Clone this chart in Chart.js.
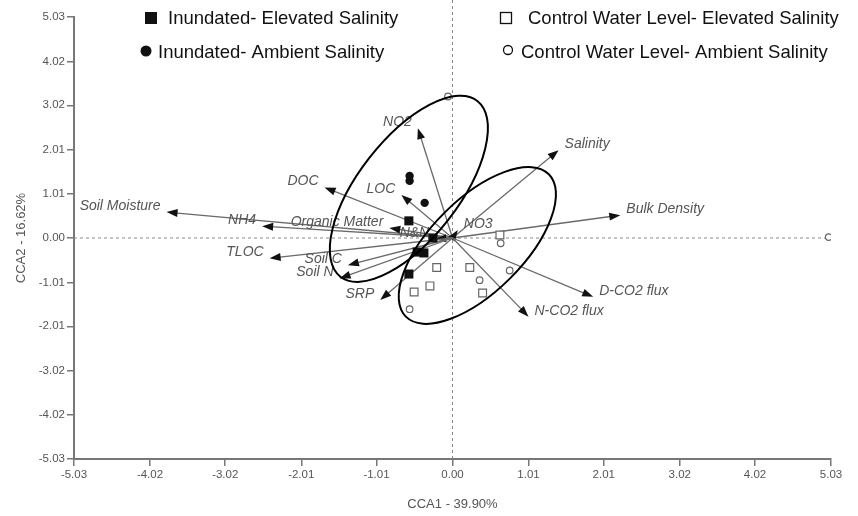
<!DOCTYPE html>
<html lang="en">
<head>
<meta charset="UTF-8">
<title>CCA biplot</title>
<script src="https://cdn.jsdelivr.net/npm/chart.js"></script>
<style>
    body { margin: 0; background: #fff; }
    #wrap { width: 858px; height: 516px; }
</style>
</head>
<body>
<div id="wrap"><canvas id="cca"></canvas></div>
<script>
// tick positions (same on both axes)
const tickValues = [-5.03, -4.02, -3.02, -2.01, -1.01, 0, 1.01, 2.01, 3.02, 4.02, 5.03];

// site scores per treatment
const inundElevX = [-0.58, -0.26, -0.47, -0.38, -0.58];
const inundElevY = [0.39, 0.00, -0.32, -0.34, -0.82];
const inundAmbX = [-0.57, -0.57, -0.37];
const inundAmbY = [1.41, 1.30, 0.80];
const ctrlElevX = [-0.21, 0.23, -0.30, -0.51, 0.40, 0.63];
const ctrlElevY = [-0.67, -0.67, -1.09, -1.23, -1.25, 0.07];
const ctrlAmbX = [0.64, 0.36, 0.76, -0.57, -0.06, 5.00];
const ctrlAmbY = [-0.12, -0.96, -0.74, -1.62, 3.22, 0.02];

// environmental vectors
const vectorNames = ['Soil Moisture', 'NH4', 'Organic Matter', 'DOC', 'LOC', 'NO2', 'Salinity', 'Bulk Density',
    'NO3', 'N&N', 'TLOC', 'Soil C', 'Soil N', 'SRP', 'D-CO2 flux', 'N-CO2 flux'];
const vectorX = [-3.80, -2.53, -0.84, -1.70, -0.68, -0.46, 1.41, 2.23, 0.07, -0.23, -2.43, -1.39, -1.50, -0.96, 1.87, 1.01];
const vectorY = [0.59, 0.27, 0.23, 1.15, 0.98, 2.50, 2.00, 0.52, 0.18, -0.02, -0.46, -0.62, -0.92, -1.41, -1.34, -1.79];

// ellipses: centre, end of major axis, minor/major ratio
const ellipseCX = [-0.58, 0.33];
const ellipseCY = [1.12, -0.17];
const ellipseMX = [0.33, 1.28];
const ellipseMY = [3.12, 1.45];
const ellipseRatio = [0.45, 0.46];

const FONT = "'Liberation Sans', Arial, sans-serif";

function toPoints(xs, ys) {
    return xs.map((x, i) => ({ x: x, y: ys[i] }));
}

// zero lines + vectors under the points, ellipses + legend on top
const biplot = {
    id: 'biplot',
    beforeDatasetsDraw(chart) {
        const { ctx, chartArea, scales: { x, y } } = chart;
        const ox = x.getPixelForValue(0), oy = y.getPixelForValue(0);
        ctx.save();
        ctx.strokeStyle = '#888';
        ctx.lineWidth = 1;
        ctx.setLineDash([3, 3]);
        ctx.beginPath();
        ctx.moveTo(ox, 0);
        ctx.lineTo(ox, chartArea.bottom);
        ctx.moveTo(chartArea.left, oy);
        ctx.lineTo(chartArea.right, oy);
        ctx.stroke();
        ctx.setLineDash([]);

        ctx.font = 'italic 14px ' + FONT;
        ctx.textBaseline = 'middle';
        vectorNames.forEach((name, i) => {
            const tx = x.getPixelForValue(vectorX[i]);
            const ty = y.getPixelForValue(vectorY[i]);
            const ang = Math.atan2(ty - oy, tx - ox);
            ctx.strokeStyle = '#6a6a6a';
            ctx.lineWidth = 1.3;
            ctx.beginPath();
            ctx.moveTo(ox, oy);
            ctx.lineTo(tx - 8 * Math.cos(ang), ty - 8 * Math.sin(ang));
            ctx.stroke();
            // arrow head
            ctx.fillStyle = '#111';
            ctx.beginPath();
            ctx.moveTo(tx, ty);
            ctx.lineTo(tx - 11 * Math.cos(ang) + 4 * Math.sin(ang), ty - 11 * Math.sin(ang) - 4 * Math.cos(ang));
            ctx.lineTo(tx - 11 * Math.cos(ang) - 4 * Math.sin(ang), ty - 11 * Math.sin(ang) + 4 * Math.cos(ang));
            ctx.closePath();
            ctx.fill();
            // label
            ctx.fillStyle = '#555';
            if (vectorX[i] < 0) {
                ctx.textAlign = 'right';
                ctx.fillText(name, tx - 6, ty - 6);
            } else {
                ctx.textAlign = 'left';
                ctx.fillText(name, tx + 6, ty - 6);
            }
        });
        ctx.restore();
    },
    afterDatasetsDraw(chart) {
        const { ctx, scales: { x, y } } = chart;
        ctx.save();
        ctx.strokeStyle = '#000';
        ctx.lineWidth = 2;
        ellipseCX.forEach((cxv, i) => {
            const cx = x.getPixelForValue(cxv), cy = y.getPixelForValue(ellipseCY[i]);
            const mx = x.getPixelForValue(ellipseMX[i]), my = y.getPixelForValue(ellipseMY[i]);
            const a = Math.hypot(mx - cx, my - cy);
            ctx.beginPath();
            ctx.ellipse(cx, cy, a, a * ellipseRatio[i], Math.atan2(my - cy, mx - cx), 0, Math.PI * 2);
            ctx.stroke();
        });

        // legend
        ctx.font = '18.5px ' + FONT;
        ctx.textAlign = 'left';
        ctx.textBaseline = 'middle';
        ctx.fillStyle = '#111';
        ctx.fillRect(145, 12, 12, 12);
        ctx.fillText('Inundated- Elevated Salinity', 168, 19);
        ctx.beginPath();
        ctx.arc(146, 51, 5.5, 0, Math.PI * 2);
        ctx.fill();
        ctx.fillText('Inundated- Ambient Salinity', 158, 53);
        ctx.strokeStyle = '#111';
        ctx.lineWidth = 1.3;
        ctx.strokeRect(500.5, 12.5, 11, 11);
        ctx.fillText('Control Water Level- Elevated Salinity', 528, 19);
        ctx.beginPath();
        ctx.arc(508, 50, 4.5, 0, Math.PI * 2);
        ctx.stroke();
        ctx.fillText('Control Water Level- Ambient Salinity', 521, 53);
        ctx.restore();
    }
};

function axis(title, isX) {
    return {
        type: 'linear',
        min: -5.03,
        max: 5.03,
        afterBuildTicks: s => { s.ticks = tickValues.map(v => ({ value: v })); },
        afterFit: s => { if (isX) s.height = 53; else s.width = 64; },
        grid: { display: true, drawOnChartArea: false, drawTicks: true, tickLength: 7, color: '#777', lineWidth: 1.5 },
        border: { display: true, color: '#777', width: 2 },
        ticks: {
            autoSkip: false, maxRotation: 0, padding: 2,
            color: '#555', font: { size: 11.5, family: FONT },
            callback: v => v.toFixed(2)
        },
        title: {
            display: true, text: title, color: '#555',
            font: { size: 13, family: FONT },
            padding: isX ? { top: 12, bottom: 0 } : { top: 4, bottom: 0 }
        }
    };
}

new Chart(document.getElementById('cca'), {
    type: 'scatter',
    data: {
        datasets: [
            { label: 'Inundated- Elevated Salinity', data: toPoints(inundElevX, inundElevY),
              pointStyle: 'rect', pointRadius: 6.4, backgroundColor: '#111', borderColor: '#111', borderWidth: 0 },
            { label: 'Inundated- Ambient Salinity', data: toPoints(inundAmbX, inundAmbY),
              pointStyle: 'circle', pointRadius: 4.2, backgroundColor: '#111', borderColor: '#111', borderWidth: 0 },
            { label: 'Control Water Level- Elevated Salinity', data: toPoints(ctrlElevX, ctrlElevY),
              pointStyle: 'rect', pointRadius: 5.5, backgroundColor: '#fff', borderColor: '#666', borderWidth: 1.2 },
            { label: 'Control Water Level- Ambient Salinity', data: toPoints(ctrlAmbX, ctrlAmbY),
              pointStyle: 'circle', pointRadius: 3.3, backgroundColor: '#fff', borderColor: '#666', borderWidth: 1.2 }
        ]
    },
    options: {
        responsive: true,
        maintainAspectRatio: false,
        animation: false,
        layout: { padding: { left: 10, right: 27, top: 17, bottom: 4 } },
        plugins: { legend: { display: false }, tooltip: { enabled: false } },
        scales: {
            x: axis('CCA1 - 39.90%', true),
            y: axis('CCA2 - 16.62%', false)
        }
    },
    plugins: [biplot]
});
</script>
</body>
</html>
